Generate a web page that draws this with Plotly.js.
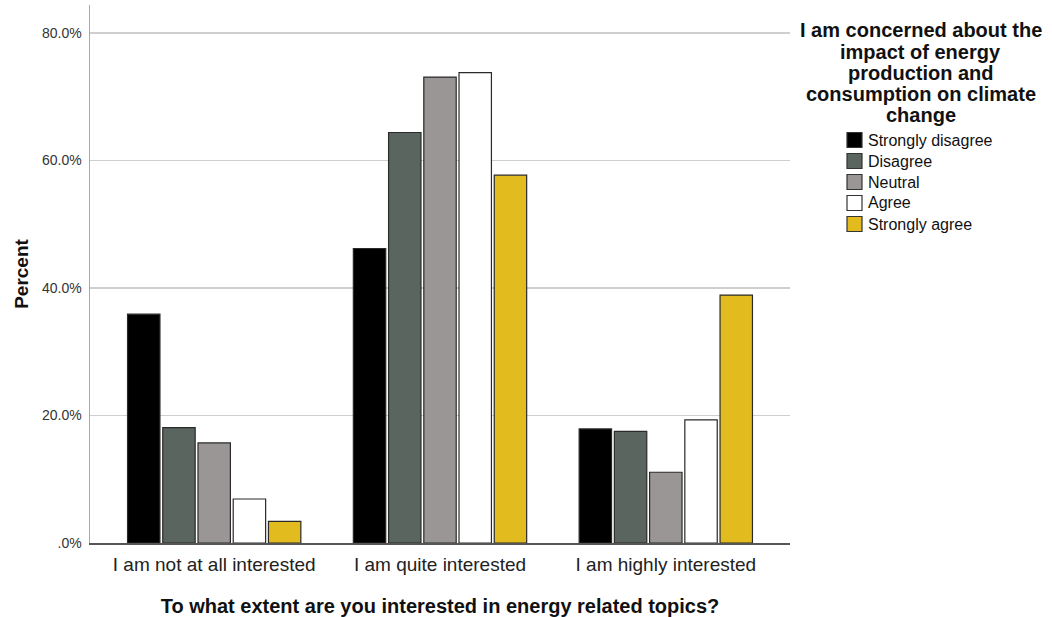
<!DOCTYPE html>
<html>
<head>
<meta charset="utf-8">
<script src="https://cdn.plot.ly/plotly-3.0.1.min.js"></script>
<style>html,body{margin:0;padding:0;background:#fff;}#chart{width:1052px;height:617px;}</style>
</head>
<body>
<div id="chart"></div>
<script>
const categories = ["I am not at all interested", "I am quite interested", "I am highly interested"];
const seriesNames = ["Strongly disagree", "Disagree", "Neutral", "Agree", "Strongly agree"];
const stronglyDisagree = [35.9, 46.2, 17.9];
const disagree = [18.1, 64.4, 17.5];
const neutral = [15.7, 73.1, 11.1];
const agree = [6.9, 73.8, 19.3];
const stronglyAgree = [3.4, 57.7, 38.9];
const yTickVals = [0, 20, 40, 60, 80];
const yTickText = [".0%", "20.0%", "40.0%", "60.0%", "80.0%"];
const legendTitleLines = ["I am concerned about the", "impact of energy", "production and", "consumption on climate", "change"];
const colors = ["#000000", "#5b655f", "#9a9695", "#ffffff", "#e2bb1e"];

const seriesValues = [stronglyDisagree, disagree, neutral, agree, stronglyAgree];
const FONT = "Liberation Sans, Arial, sans-serif";

const traces = seriesValues.map((vals, i) => ({
  type: "bar",
  name: seriesNames[i],
  x: categories,
  y: vals,
  marker: {color: colors[i], line: {color: "#2a2a2a", width: 1.2}},
  hoverinfo: "skip",
  showlegend: false
}));

// legend drawn in container pixel space
const W = 1052, H = 617;
const titleLineY = [30, 52, 73, 94, 115];
const annotations = legendTitleLines.map((t, i) => ({
  xref: "paper", yref: "paper",
  x: (921 - 90) / 700, y: (543 - titleLineY[i]) / 538,
  xanchor: "center", yanchor: "middle",
  showarrow: false, text: t,
  font: {size: 20, family: FONT, color: "#111", weight: "bold"}
}));
const shapes = [];
const rowY = [140, 161, 182, 203, 224];
seriesNames.forEach((name, i) => {
  const yc = rowY[i];
  shapes.push({
    type: "rect", xref: "paper", yref: "paper",
    x0: (847 - 90) / 700, x1: (862 - 90) / 700,
    y0: (543 - (yc + 7.5)) / 538, y1: (543 - (yc - 7.5)) / 538,
    fillcolor: colors[i], line: {color: "#333", width: 1.2}
  });
  annotations.push({
    xref: "paper", yref: "paper",
    x: (866 - 90) / 700, y: (543 - yc) / 538,
    xanchor: "left", yanchor: "middle", showarrow: false,
    text: name, font: {size: 16, family: FONT, color: "#111"}
  });
});

const layout = {
  width: W, height: H,
  margin: {l: 90, r: 262, t: 5, b: 74, pad: 0},
  paper_bgcolor: "#ffffff",
  plot_bgcolor: "#ffffff",
  font: {family: FONT, color: "#111"},
  barmode: "group",
  bargap: 0.22,
  bargroupgap: 0.08,
  showlegend: false,
  xaxis: {
    range: [-0.55, 2.55],
    showline: true, linecolor: "#555", linewidth: 1.5,
    ticks: "", showgrid: false,
    tickfont: {size: 19, family: FONT, color: "#222"},
    ticklabelstandoff: 4,
    title: {text: "To what extent are you interested in energy related topics?", font: {size: 20, family: FONT, color: "#111", weight: "bold"}, standoff: 24}
  },
  yaxis: {
    range: [0, 84.4],
    tickvals: yTickVals, ticktext: yTickText,
    showline: true, linecolor: "#a8a8a8", linewidth: 1.5,
    showgrid: true, gridcolor: "#cfcfcf", gridwidth: 1.5,
    zeroline: false, ticks: "",
    tickfont: {size: 14, family: FONT, color: "#333"},
    ticklabelstandoff: 4,
    title: {text: "Percent", font: {size: 19, family: FONT, color: "#111", weight: "bold"}, standoff: 8}
  },
  shapes: shapes,
  annotations: annotations
};

Plotly.newPlot("chart", traces, layout, {displayModeBar: false, staticPlot: true});
</script>
</body>
</html>
